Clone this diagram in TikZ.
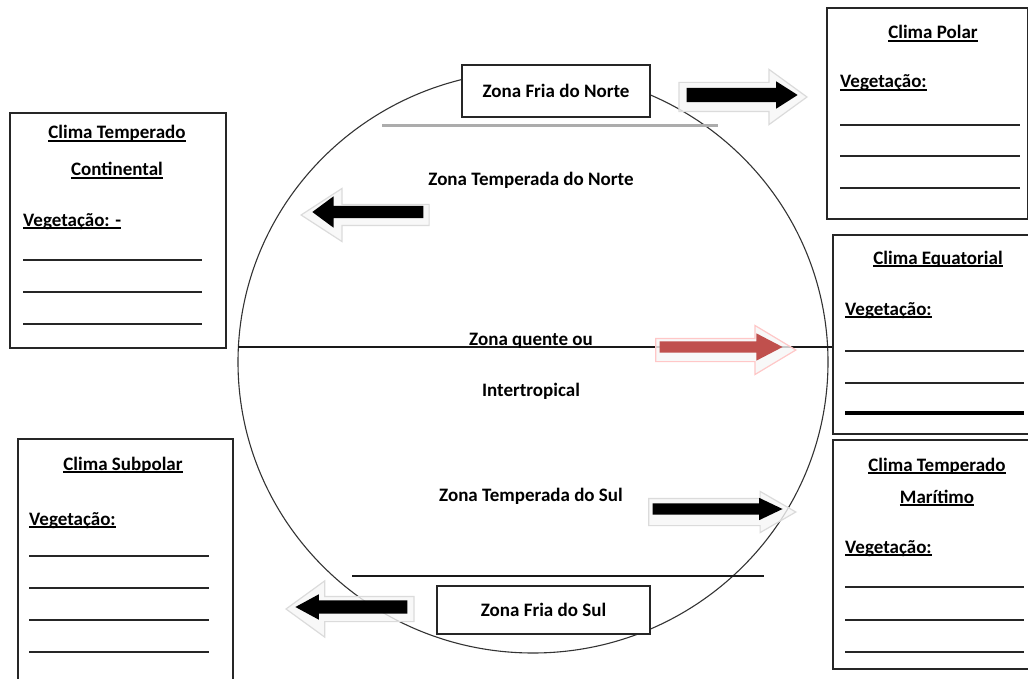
\documentclass[tikz,border=0pt]{standalone}
\usepackage{fontspec}
\setmainfont{Carlito}
\usetikzlibrary{shapes.arrows,shapes.geometric}
\definecolor{arred}{HTML}{C0504D}
\newsavebox\wulbox
\newcommand\wul[1]{\sbox\wulbox{#1}\rlap{\rule[-2.8pt]{\wd\wulbox}{1.5pt}}\usebox\wulbox}
\begin{document}
\begin{tikzpicture}[x=1pt,y=-1pt,
  every node/.style={font=\bfseries\fontsize{19}{22}\selectfont},
  lbl/.style={anchor=base, inner sep=0pt},
  cbox/.style={draw=black!85, line width=1.6pt, fill=white, anchor=north west, inner sep=0pt},
  zbox/.style={draw=black!85, line width=1.5pt, fill=white, inner sep=0pt},
  wline/.style={line width=1.8pt, black!85},
  shd/.style={single arrow, anchor=tip, fill=gray!7, fill opacity=0.8, draw=gray!28, line width=1.2pt, inner xsep=0pt},
  blk/.style={single arrow, anchor=tip, fill=black, draw=none, inner xsep=0pt},
]
\useasboundingbox (0,0) rectangle (1028,679);
% globe
\node[draw=black!80, line width=1.1pt, ellipse, minimum width=590pt, minimum height=582pt, inner sep=0pt] (globe) at (533,362) {};
\draw[gray!65, line width=3pt] (382,126) -- (718,126);
\draw[black!90, line width=1.4pt] (238,347) -- (832,347);
\draw[black!90, line width=1.4pt] (352,576) -- (764,576);
% arrows
\node[shd, minimum height=128pt, inner ysep=14pt, single arrow head extend=13pt, single arrow tip angle=72] (s1) at (808,97) {};
\node[blk, minimum height=111pt, inner ysep=7pt, single arrow head extend=6.5pt, single arrow tip angle=65] (a1) at (798,95) {};
\node[shd, shape border rotate=180, minimum height=128pt, inner ysep=10pt, single arrow head extend=16pt, single arrow tip angle=66] (s2) at (300,215) {};
\node[blk, shape border rotate=180, minimum height=111pt, inner ysep=6pt, single arrow head extend=9.5pt, single arrow tip angle=73] (a2) at (312,212) {};
\node[shd, draw=red!22, minimum height=140pt, inner ysep=11pt, single arrow head extend=13pt, single arrow tip angle=62] (s3) at (797,350) {};
\node[blk, fill=arred, minimum height=123pt, inner ysep=5.5pt, single arrow head extend=8pt, single arrow tip angle=55] (a3) at (783,347) {};
\node[shd, minimum height=147pt, inner ysep=13pt, single arrow head extend=7pt, single arrow tip angle=60] (s4) at (797,512) {};
\node[blk, minimum height=130pt, inner ysep=5.5pt, single arrow head extend=5.5pt, single arrow tip angle=51] (a4) at (783,509) {};
\node[shd, shape border rotate=180, minimum height=128pt, inner ysep=12pt, single arrow head extend=15.5pt, single arrow tip angle=72] (s5) at (285,609) {};
\node[blk, shape border rotate=180, minimum height=112pt, inner ysep=6.5pt, single arrow head extend=6pt, single arrow tip angle=57] (a5) at (295,607) {};
% zone boxes
\node[zbox, minimum width=188pt, minimum height=52pt] (zfn) at (556,91) {Zona Fria do Norte};
\node[zbox, minimum width=213pt, minimum height=48pt] (zfs) at (543.5,610) {Zona Fria do Sul};
% zone labels
\node[lbl] (ztn) at (531,186) {Zona Temperada do Norte};
\node[lbl] (zq1) at (531,345) {Zona quente ou};
\node[lbl] (zq2) at (531,396) {Intertropical};
\node[lbl] (zts) at (531,501) {Zona Temperada do Sul};
% Clima Polar
\node[cbox, minimum width=201pt, minimum height=211pt] (bpol) at (826,7) {};
\node[lbl] (tpol) at (933,39) {\wul{Clima Polar}};
\node[lbl, anchor=base west] (vpol) at (840,88) {\wul{Vegetação:}};
\draw[wline] (840,125) -- (1020,125);
\draw[wline] (840,156) -- (1020,156);
\draw[wline] (840,188) -- (1020,188);
% Clima Temperado Continental
\node[cbox, minimum width=216pt, minimum height=235pt] (bcon) at (9,112) {};
\node[lbl] (tcon1) at (117,139) {\wul{Clima Temperado}};
\node[lbl] (tcon2) at (117,176) {\wul{Continental}};
\node[lbl, anchor=base west] (vcon) at (23,226) {\wul{Vegetação: -}};
\draw[wline] (23,260) -- (202,260);
\draw[wline] (23,292) -- (202,292);
\draw[wline] (23,324) -- (202,324);
% Clima Equatorial
\node[cbox, minimum width=205pt, minimum height=199pt] (bequ) at (832,234) {};
\node[lbl] (tequ) at (938,264) {\wul{Clima Equatorial}};
\node[lbl, anchor=base west] (vequ) at (845,315) {\wul{Vegetação:}};
\draw[wline] (845,351) -- (1024,351);
\draw[wline] (845,383) -- (1024,383);
\draw[line width=3.6pt, black] (845,413) -- (1024,413);
% Clima Temperado Maritimo
\node[cbox, minimum width=205pt, minimum height=229pt] (bmar) at (832,439) {};
\node[lbl] (tmar1) at (937,471) {\wul{Clima Temperado}};
\node[lbl] (tmar2) at (937,503) {\wul{Marítimo}};
\node[lbl, anchor=base west] (vmar) at (845,553) {\wul{Vegetação:}};
\draw[wline] (845,587) -- (1024,587);
\draw[wline] (845,620) -- (1024,620);
\draw[wline] (845,652) -- (1024,652);
% Clima Subpolar
\node[cbox, minimum width=215pt, minimum height=260pt] (bsub) at (17,438) {};
\node[lbl] (tsub) at (123,470) {\wul{Clima Subpolar}};
\node[lbl, anchor=base west] (vsub) at (29,525) {\wul{Vegetação:}};
\draw[wline] (29,556) -- (209,556);
\draw[wline] (29,588) -- (209,588);
\draw[wline] (29,620) -- (209,620);
\draw[wline] (29,652) -- (209,652);
\end{tikzpicture}
\end{document}
